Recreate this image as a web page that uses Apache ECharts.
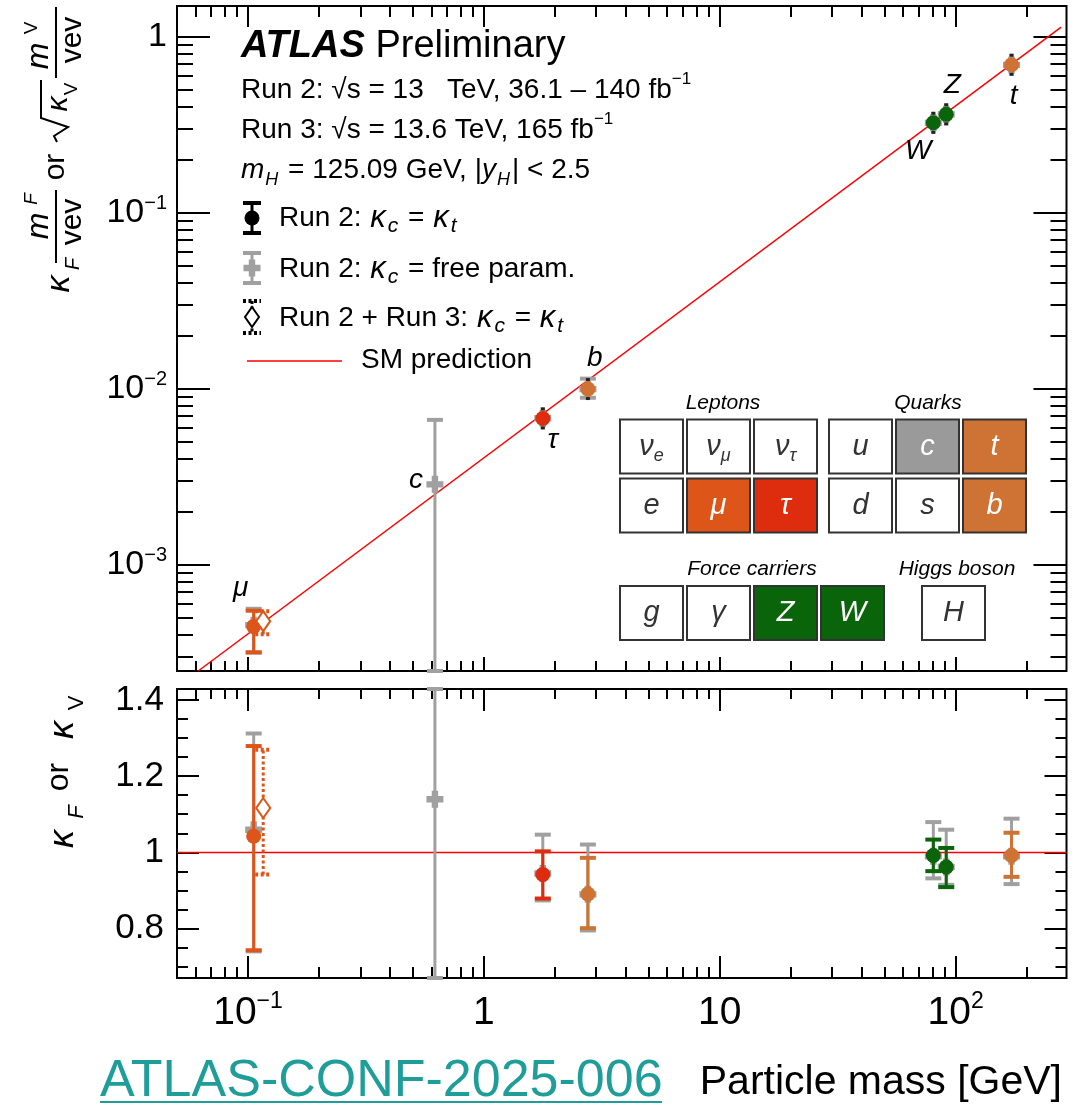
<!DOCTYPE html>
<html>
<head>
<meta charset="utf-8">
<script src="https://cdn.jsdelivr.net/npm/echarts@6/dist/echarts.min.js"></script>
<style>
  html, body { margin: 0; padding: 0; background: #fff; }
  #chart { width: 1089px; height: 1106px; }
</style>
</head>
<body>
<div id="chart"></div>
<script>
// Higgs boson coupling strength modifiers versus particle mass.
const VEV = 246; // GeV

// Run 2, kappa_c = kappa_t
const fitParticles = ['μ', 'τ', 'b', 'W', 'Z', 't'];
const fitMasses    = [0.1057, 1.777, 2.76, 80.4, 91.19, 172.5];
const fitIsBoson   = [false, false, false, true, true, false];
const fitKappa     = [1.043, 0.942, 0.891, 0.992, 0.962, 0.992];
const fitKappaLow  = [0.743, 0.879, 0.801, 0.951, 0.909, 0.936];
const fitKappaHigh = [1.280, 1.003, 0.986, 1.034, 1.012, 1.052];

// Run 2, kappa_c as a free parameter
const freeParticles = ['μ', 'c', 'τ', 'b', 'W', 'Z', 't'];
const freeMasses    = [0.1057, 0.62, 1.777, 2.76, 80.4, 91.19, 172.5];
const freeIsBoson   = [false, false, false, false, true, true, false];
const freeKappa     = [1.060, 1.140, 0.945, 0.890, 0.990, 0.962, 0.990];
const freeKappaLow  = [0.740, 0.000, 0.874, 0.795, 0.932, 0.915, 0.917];
const freeKappaHigh = [1.313, 2.650, 1.047, 1.021, 1.080, 1.060, 1.089];

// Run 2 + Run 3 combination (muon), drawn slightly displaced in mass
const comboParticles = ['μ'];
const comboMasses    = [0.1057];
const comboPlotMass  = [0.116];
const comboKappa     = [1.117];
const comboKappaLow  = [0.942];
const comboKappaHigh = [1.270];

// Axis ranges and ticks
const xRange       = [0.05, 295];
const yTopRange    = [2.5e-4, 1.5];
const yBottomRange = [0.67, 1.43];
const xMajorTicks = [0.1, 1, 10, 100];
const xMinorTicks = [0.06, 0.07, 0.08, 0.09, 0.2, 0.3, 0.4, 0.5, 0.6, 0.7, 0.8, 0.9,
                     2, 3, 4, 5, 6, 7, 8, 9, 20, 30, 40, 50, 60, 70, 80, 90, 200];
const yTopMajorTicks = [0.001, 0.01, 0.1, 1];
const yTopMinorTicks = [3e-4, 4e-4, 5e-4, 6e-4, 7e-4, 8e-4, 9e-4,
                        0.002, 0.003, 0.004, 0.005, 0.006, 0.007, 0.008, 0.009,
                        0.02, 0.03, 0.04, 0.05, 0.06, 0.07, 0.08, 0.09,
                        0.2, 0.3, 0.4, 0.5, 0.6, 0.7, 0.8, 0.9];
const yBottomMajorTicks = [0.8, 1, 1.2, 1.4];
const yBottomMinorTicks = [0.7, 0.75, 0.85, 0.9, 0.95, 1.05, 1.1, 1.15, 1.25, 1.3, 1.35];

// Styling
const FONT = '"Liberation Sans", Arial, Helvetica, sans-serif';
const C_MU = '#DE5519', C_TAU = '#DD2D0E', C_BT = '#CE7333', C_VB = '#0A640A';
const C_GRAY = '#A0A0A0', C_BOX_C = '#9A9A9A', C_SM = '#FF0000', C_LINK = '#1F9E99';
const fitColors = [C_MU, C_TAU, C_BT, C_VB, C_VB, C_BT];
const freeColors = freeParticles.map(() => C_GRAY);
const comboColors = [C_MU];
const labelOffsets = { 'μ': [-13, -38], 'c': [-19, -4], 'τ': [10, 22], 'b': [7, -31],
                       'W': [-15, 28], 'Z': [6, -29], 't': [2, 31] };
const MARKER_R = 7.5;

// Reduced coupling: kappa_F * m_F / v for fermions, sqrt(kappa_V) * m_V / v for bosons
function reduced(kappa, mass, boson) {
  return (boson ? Math.sqrt(Math.max(kappa, 0)) : kappa) * mass / VEV;
}

const fitTop = fitMasses.map((m, i) => [m,
  reduced(fitKappa[i], m, fitIsBoson[i]), reduced(fitKappaLow[i], m, fitIsBoson[i]), reduced(fitKappaHigh[i], m, fitIsBoson[i])]);
const fitBottom = fitMasses.map((m, i) => [m, fitKappa[i], fitKappaLow[i], fitKappaHigh[i]]);
const freeTop = freeMasses.map((m, i) => [m,
  reduced(freeKappa[i], m, freeIsBoson[i]), reduced(freeKappaLow[i], m, freeIsBoson[i]), reduced(freeKappaHigh[i], m, freeIsBoson[i])]);
const freeBottom = freeMasses.map((m, i) => [m, freeKappa[i], freeKappaLow[i], freeKappaHigh[i]]);
const comboTop = comboMasses.map((m, i) => [comboPlotMass[i],
  reduced(comboKappa[i], m, false), reduced(comboKappaLow[i], m, false), reduced(comboKappaHigh[i], m, false)]);
const comboBottom = comboMasses.map((m, i) => [comboPlotMass[i], comboKappa[i], comboKappaLow[i], comboKappaHigh[i]]);

// SM expectation (kappa = 1)
const smMass = [0.05, 280];
const smTop = smMass.map(m => [m, reduced(1, m, false)]);
const smBottom = xRange.map(m => [m, 1]);

function markerShape(kind, x, y, color) {
  if (kind === 'circle') {
    return { type: 'circle', shape: { cx: x, cy: y, r: MARKER_R }, style: { fill: color } };
  }
  if (kind === 'cross') {
    const s = 8.5, t = 3.2;
    return { type: 'polygon', shape: { points: [[x - t, y - s], [x + t, y - s], [x + t, y - t], [x + s, y - t], [x + s, y + t], [x + t, y + t],
      [x + t, y + s], [x - t, y + s], [x - t, y + t], [x - s, y + t], [x - s, y - t], [x - t, y - t]] }, style: { fill: color } };
  }
  return { type: 'polygon', shape: { points: [[x, y - 10], [x + 7, y], [x, y + 10], [x - 7, y]] },
           style: { fill: '#fff', stroke: color, lineWidth: 2 } };
}

function textStyle(text, font, fill, align) {
  return { text, font, fill, align: align || 'center', verticalAlign: 'middle',
           textAlign: align || 'center', textVerticalAlign: 'middle' };
}

// Error bar with end caps; bars hidden inside the marker only leave a small notch at its edge
function errorBarRenderer(o) {
  return function (params, api) {
    const i = params.dataIndex;
    const x = api.value(0);
    const clampY = v => Math.min(Math.max(v, o.yRange[0]), o.yRange[1]);
    const p = api.coord([x, api.value(1)]);
    const yLo = api.coord([x, clampY(api.value(2))])[1];
    const yHi = api.coord([x, clampY(api.value(3))])[1];
    const color = o.colors[i];
    const dash = o.dashed ? [3, 2.5] : null;
    const bar = { stroke: color, lineWidth: 3, lineDash: dash };
    const cap = { stroke: color, lineWidth: 4, lineDash: dash };
    const hw = 8;
    const kids = [{ type: 'line', shape: { x1: p[0], y1: yLo, x2: p[0], y2: yHi }, style: bar }];
    [yLo, yHi].forEach((ye, k) => {
      const dir = k === 0 ? 1 : -1;
      if (Math.abs(ye - p[1]) > MARKER_R + 1) {
        kids.push({ type: 'line', shape: { x1: p[0] - hw, y1: ye, x2: p[0] + hw, y2: ye }, style: cap });
      } else {
        const e = p[1] + dir * (MARKER_R + 2);
        kids.push({ type: 'line', shape: { x1: p[0] - 2, y1: e, x2: p[0] + 2, y2: e },
                    style: { stroke: o.notchColor || color, lineWidth: 3 } });
      }
    });
    kids.push(markerShape(o.marker, p[0], p[1], color));
    const name = o.names ? o.names[i] : null;
    const off = name && o.labelNames && o.labelNames.indexOf(name) >= 0 ? labelOffsets[name] : null;
    if (off) {
      kids.push({ type: 'text', x: p[0] + off[0], y: p[1] + off[1],
                  style: textStyle(name, 'italic 28px ' + FONT, '#000') });
    }
    return { type: 'group', children: kids };
  };
}

// Straight segment between consecutive points, clipped to the plotting area
function clipSegment(a, b, r) {
  let t0 = 0, t1 = 1;
  const dx = b[0] - a[0], dy = b[1] - a[1];
  const pq = [[-dx, a[0] - r.x], [dx, r.x + r.width - a[0]], [-dy, a[1] - r.y], [dy, r.y + r.height - a[1]]];
  for (const [p, q] of pq) {
    if (p === 0) { if (q < 0) return null; continue; }
    const t = q / p;
    if (p < 0) { if (t > t1) return null; if (t > t0) t0 = t; }
    else { if (t < t0) return null; if (t < t1) t1 = t; }
  }
  return [[a[0] + t0 * dx, a[1] + t0 * dy], [a[0] + t1 * dx, a[1] + t1 * dy]];
}
function segmentRenderer(points, color, width) {
  return function (params, api) {
    const i = params.dataIndex;
    if (i >= points.length - 1) return null;
    const seg = clipSegment(api.coord(points[i]), api.coord(points[i + 1]), params.coordSys);
    if (!seg) return null;
    return { type: 'line', shape: { x1: seg[0][0], y1: seg[0][1], x2: seg[1][0], y2: seg[1][1] },
             style: { stroke: color, lineWidth: width } };
  };
}

function xTickRenderer(topLen, bottomLen) {
  return function (params, api) {
    const cs = params.coordSys;
    const px = Math.round(api.coord([api.value(0), api.value(1)])[0]);
    const major = api.value(2) === 1;
    const t = major ? topLen[0] : topLen[1];
    const b = major ? bottomLen[0] : bottomLen[1];
    const st = { stroke: '#000', lineWidth: 2 };
    return { type: 'group', children: [
      { type: 'line', shape: { x1: px, y1: cs.y, x2: px, y2: cs.y + t }, style: st },
      { type: 'line', shape: { x1: px, y1: cs.y + cs.height, x2: px, y2: cs.y + cs.height - b }, style: st }
    ] };
  };
}

function yTickRenderer(len) {
  return function (params, api) {
    const cs = params.coordSys;
    const py = Math.round(api.coord([api.value(0), api.value(1)])[1]);
    const l = api.value(2) === 1 ? len[0] : len[1];
    const st = { stroke: '#000', lineWidth: 2 };
    return { type: 'group', children: [
      { type: 'line', shape: { x1: cs.x, y1: py, x2: cs.x + l, y2: py }, style: st },
      { type: 'line', shape: { x1: cs.x + cs.width, y1: py, x2: cs.x + cs.width - l, y2: py }, style: st }
    ] };
  };
}

function tickData(major, minor, make) {
  return major.map(v => make(v, 1)).concat(minor.map(v => make(v, 0)));
}

function powerLabel(v) {
  const l = Math.log10(v);
  const e = Math.round(l);
  if (Math.abs(l - e) > 1e-6) return '';
  if (e === 0) return '{b|1}';
  if (e === 1) return '{b|10}';
  return '{b|10}{e|' + (e < 0 ? '\u2212' + (-e) : e) + '}';
}

// Rich text styles for the annotation texts
function richSet(size, sub) {
  return {
    n:   { fontSize: size, fontFamily: FONT, fill: '#000', lineHeight: size + 10 },
    i:   { fontSize: size, fontFamily: FONT, fontStyle: 'italic', fill: '#000', lineHeight: size + 10 },
    k:   { fontSize: size + 3, fontFamily: FONT, fontStyle: 'italic', fill: '#000', lineHeight: size + 10, padding: [0, 1, 0, 1] },
    sub: { fontSize: sub, fontFamily: FONT, fontStyle: 'italic', fill: '#000', lineHeight: sub, verticalAlign: 'bottom', padding: [0, 2, 0, 1] },
    sup: { fontSize: sub, fontFamily: FONT, fill: '#000', lineHeight: sub, verticalAlign: 'top' }
  };
}
function richText(x, y, text, size, sub, align) {
  return { type: 'text', x, y, style: Object.assign(textStyle(text, size + 'px ' + FONT, '#000', align || 'left'),
                                                    { rich: richSet(size, sub) }) };
}

// Legend symbols
function legendSymbol(kind, x, y, color, dashed, half) {
  const dash = dashed ? [3, 2.5] : null;
  return { type: 'group', children: [
    { type: 'line', shape: { x1: x, y1: y - half, x2: x, y2: y + half }, style: { stroke: color, lineWidth: 3, lineDash: dash } },
    { type: 'line', shape: { x1: x - 9, y1: y - half, x2: x + 9, y2: y - half }, style: { stroke: color, lineWidth: 4, lineDash: dash } },
    { type: 'line', shape: { x1: x - 9, y1: y + half, x2: x + 9, y2: y + half }, style: { stroke: color, lineWidth: 4, lineDash: dash } },
    markerShape(kind, x, y, color)
  ] };
}

// Standard-model particle table
const BOX_W = 63, BOX_H = 54;
const boxes = [
  { x: 620, y: 419.5, t: '{b|ν}{s|e}' }, { x: 687, y: 419.5, t: '{b|ν}{s|μ}' }, { x: 754, y: 419.5, t: '{b|ν}{s|τ}' },
  { x: 829, y: 419.5, t: '{b|u}' }, { x: 896, y: 419.5, t: '{b|c}', fill: C_BOX_C }, { x: 963, y: 419.5, t: '{b|t}', fill: C_BT },
  { x: 620, y: 478.5, t: '{b|e}' }, { x: 687, y: 478.5, t: '{b|μ}', fill: C_MU }, { x: 754, y: 478.5, t: '{b|τ}', fill: C_TAU },
  { x: 829, y: 478.5, t: '{b|d}' }, { x: 896, y: 478.5, t: '{b|s}' }, { x: 963, y: 478.5, t: '{b|b}', fill: C_BT },
  { x: 620, y: 586, t: '{b|g}' }, { x: 687, y: 586, t: '{b|γ}' }, { x: 754, y: 586, t: '{b|Z}', fill: C_VB },
  { x: 821, y: 586, t: '{b|W}', fill: C_VB }, { x: 922, y: 586, t: '{b|H}' }
];
const boxGraphics = [];
boxes.forEach(b => {
  const txtColor = b.fill ? '#fff' : '#333';
  boxGraphics.push({ type: 'rect', shape: { x: b.x, y: b.y, width: BOX_W, height: BOX_H },
                     style: { fill: b.fill || '#fff', stroke: '#333', lineWidth: 2 } });
  boxGraphics.push({ type: 'text', x: b.x + BOX_W / 2, y: b.y + BOX_H / 2,
    style: Object.assign(textStyle(b.t, 'italic 28px ' + FONT, txtColor), { rich: {
      b: { fontSize: 29, fontStyle: 'italic', fontFamily: FONT, fill: txtColor, lineHeight: 36 },
      s: { fontSize: 18, fontStyle: 'italic', fontFamily: FONT, fill: txtColor, lineHeight: 18, verticalAlign: 'bottom' } } }) });
});
const groupTitles = [
  ['Leptons', 723, 403], ['Quarks', 928, 403], ['Force carriers', 752, 569], ['Higgs boson', 957, 569]
].map(g => ({ type: 'text', x: g[1], y: g[2], style: textStyle(g[0], 'italic 21px ' + FONT, '#000') }));

// Rotated y-axis titles (text runs bottom to top)
function rt(x, y, text, font) {
  return { type: 'text', x, y, style: textStyle(text, font, '#000') };
}
const yTitleTop = { type: 'group', x: 60, y: 302, rotation: Math.PI / 2, children: [
  rt(18, 0, 'κ', 'italic 34px ' + FONT),
  rt(38, 13, 'F', 'italic 20px ' + FONT),
  { type: 'line', shape: { x1: 39, y1: -4, x2: 112, y2: -4 }, style: { stroke: '#000', lineWidth: 2 } },
  rt(76, -21, 'm', 'italic 32px ' + FONT),
  rt(103, -28, 'F', 'italic 19px ' + FONT),
  rt(80, 13, 'vev', '30px ' + FONT),
  rt(135, -4, 'or', '30px ' + FONT),
  { type: 'polyline', shape: { points: [[160, -3], [166, -6], [175, 8], [184, -19], [222, -19]] },
    style: { stroke: '#000', lineWidth: 2, fill: null } },
  rt(198, -1, 'κ', 'italic 30px ' + FONT),
  rt(213, 12, 'V', '19px ' + FONT),
  { type: 'line', shape: { x1: 224, y1: -4, x2: 295, y2: -4 }, style: { stroke: '#000', lineWidth: 2 } },
  rt(246, -21, 'm', 'italic 32px ' + FONT),
  rt(274, -28, 'V', '19px ' + FONT),
  rt(262, 13, 'vev', '30px ' + FONT)
] };
const yTitleBottom = { type: 'group', x: 60, y: 852, rotation: Math.PI / 2, children: [
  rt(13, 3, 'κ', 'italic 36px ' + FONT),
  rt(40, 17, 'F', 'italic 22px ' + FONT),
  rt(75, -1, 'or', '32px ' + FONT),
  rt(122, 3, 'κ', 'italic 36px ' + FONT),
  rt(149, 17, 'V', '22px ' + FONT)
] };

const graphics = [
  { type: 'text', x: 241, y: 47, style: Object.assign(textStyle('{a|ATLAS}{p| Preliminary}', '38px ' + FONT, '#000', 'left'), { rich: {
      a: { fontSize: 38, fontFamily: FONT, fontWeight: 'bold', fontStyle: 'italic', fill: '#000' },
      p: { fontSize: 38, fontFamily: FONT, fill: '#000' } } }) },
  richText(241, 90, '{n|Run 2: √s = 13   TeV, 36.1 – 140 fb}{sup|\u22121}', 28, 17),
  richText(241, 130, '{n|Run 3: √s = 13.6 TeV, 165 fb}{sup|\u22121}', 28, 17),
  richText(241, 170, '{i|m}{sub|H}{n| = 125.09 GeV, |}{i|y}{sub|H}{n|| < 2.5}', 28, 18),
  legendSymbol('circle', 252, 218, '#000', false, 15),
  legendSymbol('cross', 252, 268, C_GRAY, false, 15),
  legendSymbol('diamond', 252, 317, '#000', true, 16),
  { type: 'line', shape: { x1: 247, y1: 361, x2: 342, y2: 361 }, style: { stroke: C_SM, lineWidth: 1.5 } },
  richText(279, 218, '{n|Run 2: }{k|κ}{sub|c}{n| = }{k|κ}{sub|t}', 28, 21),
  richText(279, 269, '{n|Run 2: }{k|κ}{sub|c}{n| = free param.}', 28, 21),
  richText(279, 318, '{n|Run 2 + Run 3: }{k|κ}{sub|c}{n| = }{k|κ}{sub|t}', 28, 21),
  richText(361, 360, '{n|SM prediction}', 28, 18),
  yTitleTop, yTitleBottom,
  { type: 'text', x: 100, y: 1082, style: textStyle('ATLAS-CONF-2025-006', '52px ' + FONT, C_LINK, 'left') },
  { type: 'line', shape: { x1: 100, y1: 1102, x2: 662, y2: 1102 }, style: { stroke: C_LINK, lineWidth: 2 } },
  { type: 'text', x: 1062, y: 1083, style: textStyle('Particle mass [GeV]', '41px ' + FONT, '#000', 'right') }
].concat(groupTitles, boxGraphics);

const chart = echarts.init(document.getElementById('chart'), null, { renderer: 'canvas' });

const noAxisDecor = { axisLine: { show: false }, axisTick: { show: false }, splitLine: { show: false },
                      minorTick: { show: false }, minorSplitLine: { show: false } };

chart.setOption({
  animation: false,
  backgroundColor: '#fff',
  textStyle: { fontFamily: FONT },
  grid: [
    { left: 177, top: 6, width: 889.5, height: 665, show: true, borderColor: '#000', borderWidth: 2,
      backgroundColor: 'transparent', containLabel: false, outerBoundsMode: 'none' },
    { left: 177, top: 689, width: 889.5, height: 289, show: true, borderColor: '#000', borderWidth: 2,
      backgroundColor: 'transparent', containLabel: false, outerBoundsMode: 'none' }
  ],
  xAxis: [
    Object.assign({ gridIndex: 0, type: 'log', logBase: 10, min: xRange[0], max: xRange[1],
                    axisLabel: { show: false } }, noAxisDecor),
    Object.assign({ gridIndex: 1, type: 'log', logBase: 10, min: xRange[0], max: xRange[1],
                    axisLabel: { show: true, margin: 12, formatter: powerLabel, showMinLabel: true, showMaxLabel: true,
                      rich: { b: { fontSize: 39, fontFamily: FONT, color: '#000', lineHeight: 46 },
                              e: { fontSize: 23, fontFamily: FONT, color: '#000', lineHeight: 23, verticalAlign: 'top' } } } }, noAxisDecor)
  ],
  yAxis: [
    Object.assign({ gridIndex: 0, type: 'log', logBase: 10, min: yTopRange[0], max: yTopRange[1],
                    axisLabel: { show: true, margin: 10, formatter: powerLabel,
                      rich: { b: { fontSize: 34, fontFamily: FONT, color: '#000', lineHeight: 40 },
                              e: { fontSize: 20, fontFamily: FONT, color: '#000', lineHeight: 20, verticalAlign: 'top' } } } }, noAxisDecor),
    Object.assign({ gridIndex: 1, type: 'value', min: yBottomRange[0], max: yBottomRange[1],
                    axisLabel: { show: true, margin: 13, fontSize: 35, fontFamily: FONT, color: '#000',
                      formatter: v => (Math.abs(v * 5 - Math.round(v * 5)) > 1e-6 ? '' : (Math.abs(v - 1) < 1e-9 ? '1' : v.toFixed(1))) } }, noAxisDecor)
  ],
  series: [
    // axis ticks (below the curves and markers)
    { type: 'custom', xAxisIndex: 0, yAxisIndex: 0, z: 1, silent: true,
      data: tickData(xMajorTicks, xMinorTicks, (v, m) => [v, 0.01, m]), renderItem: xTickRenderer([21, 11], [14, 10]) },
    { type: 'custom', xAxisIndex: 0, yAxisIndex: 0, z: 1, silent: true,
      data: tickData(yTopMajorTicks, yTopMinorTicks, (v, m) => [1, v, m]), renderItem: yTickRenderer([33, 16]) },
    { type: 'custom', xAxisIndex: 1, yAxisIndex: 1, z: 1, silent: true,
      data: tickData(xMajorTicks, xMinorTicks, (v, m) => [v, 1, m]), renderItem: xTickRenderer([22, 10], [22, 11]) },
    { type: 'custom', xAxisIndex: 1, yAxisIndex: 1, z: 1, silent: true,
      data: tickData(yBottomMajorTicks, yBottomMinorTicks, (v, m) => [1, v, m]), renderItem: yTickRenderer([22, 11]) },

    { type: 'custom', name: 'SM prediction', xAxisIndex: 0, yAxisIndex: 0, z: 2, silent: true,
      data: smTop, renderItem: segmentRenderer(smTop, C_SM, 1.5) },
    { type: 'custom', name: 'SM prediction', xAxisIndex: 1, yAxisIndex: 1, z: 2, silent: true,
      data: smBottom, renderItem: segmentRenderer(smBottom, C_SM, 1.5) },

    { type: 'custom', name: 'Run 2: κc = free param.', xAxisIndex: 0, yAxisIndex: 0, z: 3, silent: true, data: freeTop,
      renderItem: errorBarRenderer({ colors: freeColors, marker: 'cross', yRange: yTopRange, names: freeParticles, labelNames: ['c'] }) },
    { type: 'custom', name: 'Run 2: κc = free param.', xAxisIndex: 1, yAxisIndex: 1, z: 3, silent: true, data: freeBottom,
      renderItem: errorBarRenderer({ colors: freeColors, marker: 'cross', yRange: yBottomRange }) },

    { type: 'custom', name: 'Run 2: κc = κt', xAxisIndex: 0, yAxisIndex: 0, z: 4, silent: true, data: fitTop,
      renderItem: errorBarRenderer({ colors: fitColors, marker: 'circle', yRange: yTopRange, names: fitParticles, notchColor: '#222',
                                     labelNames: ['μ', 'τ', 'b', 'W', 'Z', 't'] }) },
    { type: 'custom', name: 'Run 2: κc = κt', xAxisIndex: 1, yAxisIndex: 1, z: 4, silent: true, data: fitBottom,
      renderItem: errorBarRenderer({ colors: fitColors, marker: 'circle', yRange: yBottomRange }) },

    { type: 'custom', name: 'Run 2 + Run 3: κc = κt', xAxisIndex: 0, yAxisIndex: 0, z: 4, silent: true, data: comboTop,
      renderItem: errorBarRenderer({ colors: comboColors, marker: 'diamond', dashed: true, yRange: yTopRange }) },
    { type: 'custom', name: 'Run 2 + Run 3: κc = κt', xAxisIndex: 1, yAxisIndex: 1, z: 4, silent: true, data: comboBottom,
      renderItem: errorBarRenderer({ colors: comboColors, marker: 'diamond', dashed: true, yRange: yBottomRange }) }
  ],
  graphic: graphics
});
</script>
</body>
</html>
